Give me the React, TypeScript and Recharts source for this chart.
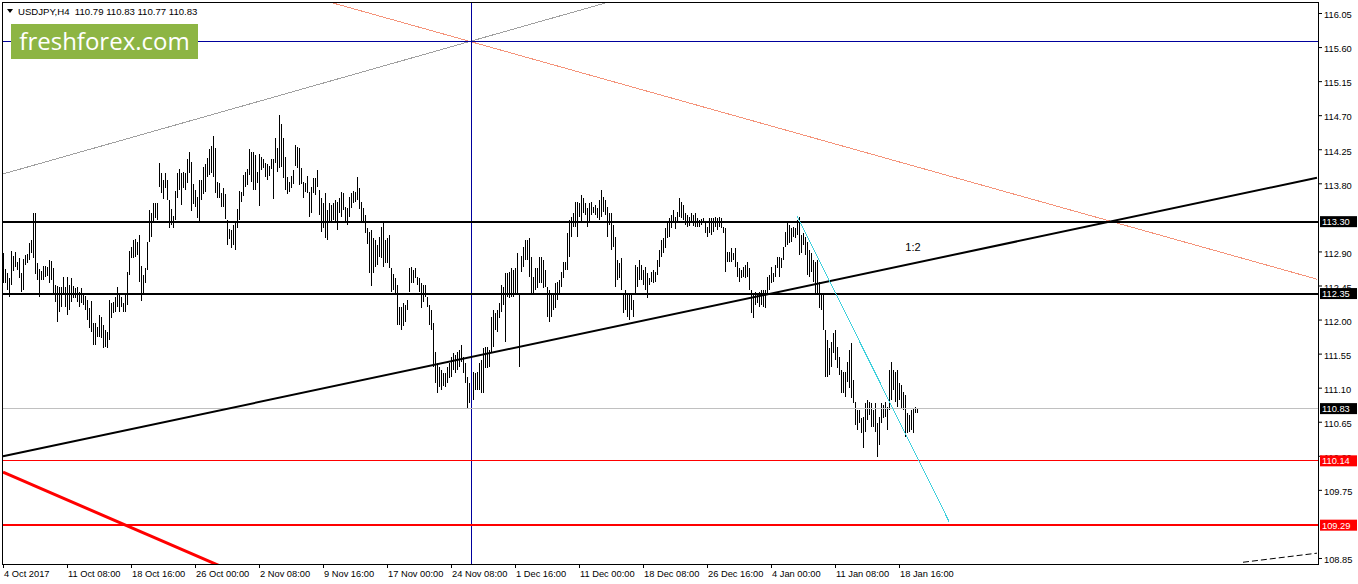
import { ComposedChart, Bar, XAxis, YAxis, ReferenceLine, ReferenceDot } from 'recharts'

// USDJPY H4 bars, 4 Oct 2017 .. 19 Jan 2018 (high / low per bar)
const highs = [
  112.89, 112.68, 112.62, 112.56, 112.91, 112.85, 112.90, 112.77, 112.82, 112.62,
  112.81, 112.86, 112.87, 113.02, 113.06, 113.41, 113.41, 112.75, 112.68, 112.65,
  112.71, 112.71, 112.70, 112.79, 112.78, 112.69, 112.46, 112.45, 112.44, 112.44,
  112.57, 112.44, 112.57, 112.46, 112.56, 112.45, 112.42, 112.44, 112.37, 112.42,
  112.36, 112.32, 112.27, 112.16, 112.25, 111.96, 111.96, 111.91, 112.07, 112.04,
  111.94, 111.87, 111.84, 112.27, 112.23, 112.24, 112.31, 112.44, 112.36, 112.31,
  112.23, 112.33, 112.64, 112.91, 112.97, 113.06, 113.07, 113.03, 113.12, 112.71,
  112.60, 112.69, 113.03, 113.45, 113.41, 113.55, 113.55, 113.55, 114.08, 113.94,
  113.85, 113.94, 113.85, 113.59, 113.47, 113.37, 113.71, 113.94, 113.99, 113.94,
  113.96, 113.94, 114.13, 114.22, 114.09, 113.80, 113.72, 113.63, 113.85, 113.85,
  114.02, 114.06, 114.14, 114.26, 114.30, 114.43, 114.27, 113.82, 113.81, 113.68,
  113.75, 113.67, 113.32, 113.20, 113.19, 113.26, 113.30, 113.47, 113.71, 113.69,
  113.92, 113.96, 114.00, 114.26, 114.22, 114.22, 114.18, 113.96, 114.19, 114.15,
  114.13, 114.08, 114.06, 114.04, 114.13, 114.13, 114.41, 114.27, 114.71, 114.59,
  114.41, 114.15, 113.89, 113.82, 113.90, 113.98, 114.31, 114.29, 114.27, 114.01,
  113.82, 113.81, 113.90, 113.69, 113.76, 113.88, 113.88, 113.98, 113.72, 113.61,
  113.55, 113.68, 113.45, 113.55, 113.52, 113.55, 113.59, 113.56, 113.61, 113.69,
  113.68, 113.49, 113.48, 113.63, 113.68, 113.71, 113.69, 113.89, 113.75, 113.56,
  113.48, 113.39, 113.22, 113.16, 113.19, 113.08, 113.06, 112.99, 113.10, 113.23,
  113.30, 113.06, 113.08, 113.12, 112.69, 112.61, 112.56, 112.46, 112.17, 112.17,
  112.23, 112.20, 112.27, 112.69, 112.70, 112.66, 112.69, 112.57, 112.56, 112.49,
  112.46, 112.46, 112.31, 112.20, 112.13, 111.96, 111.58, 111.43, 111.38, 111.34,
  111.30, 111.30, 111.38, 111.43, 111.51, 111.57, 111.54, 111.58, 111.61, 111.67,
  111.51, 111.43, 111.25, 111.17, 111.12, 111.32, 111.30, 111.32, 111.43, 111.47,
  111.63, 111.65, 111.65, 111.61, 112.04, 112.13, 112.09, 112.13, 112.23, 112.46,
  112.44, 112.62, 112.62, 112.64, 112.69, 112.66, 112.69, 112.89, 112.33, 112.85,
  112.97, 113.06, 113.06, 113.08, 112.83, 112.57, 112.69, 112.69, 112.83, 112.83,
  112.79, 112.66, 112.44, 112.40, 112.36, 112.36, 112.49, 112.50, 112.53, 112.64,
  112.77, 112.77, 113.15, 113.32, 113.36, 113.41, 113.56, 113.56, 113.55, 113.65,
  113.61, 113.55, 113.48, 113.55, 113.56, 113.49, 113.52, 113.48, 113.59, 113.72,
  113.63, 113.59, 113.49, 113.41, 113.41, 113.26, 113.10, 112.79, 112.75, 112.82,
  112.36, 112.40, 112.36, 112.36, 112.36, 112.27, 112.73, 112.70, 112.79, 112.73,
  112.66, 112.70, 112.62, 112.56, 112.64, 112.66, 112.64, 112.79, 112.93, 113.06,
  113.08, 113.22, 113.30, 113.35, 113.39, 113.45, 113.36, 113.43, 113.61, 113.56,
  113.52, 113.41, 113.39, 113.36, 113.41, 113.39, 113.41, 113.35, 113.32, 113.34,
  113.35, 113.28, 113.23, 113.35, 113.35, 113.35, 113.36, 113.35, 113.36, 113.35,
  113.23, 113.22, 112.90, 112.90, 112.95, 112.89, 112.95, 112.77, 112.69, 112.66,
  112.70, 112.73, 112.77, 112.69, 112.40, 112.36, 112.37, 112.36, 112.37, 112.40,
  112.40, 112.40, 112.57, 112.60, 112.70, 112.62, 112.73, 112.83, 112.83, 112.82,
  112.97, 113.16, 113.28, 113.26, 113.22, 113.23, 113.22, 113.32, 113.36, 113.12,
  113.15, 113.10, 113.03, 112.93, 112.89, 112.79, 112.77, 112.79, 112.50, 112.33,
  112.33, 111.87, 111.74, 111.63, 111.71, 111.83, 111.87, 111.65, 111.51, 111.34,
  111.32, 111.32, 111.45, 111.61, 111.70, 111.21, 110.92, 110.81, 110.81, 110.71,
  110.72, 110.90, 110.94, 110.92, 110.90, 110.81, 110.90, 110.64, 110.72, 110.90,
  110.88, 110.92, 110.85, 111.34, 111.45, 111.34, 111.32, 111.34, 111.17, 111.14,
  111.05, 111.01, 110.77, 110.75, 110.81, 110.84, 110.85, 110.83
]

const lows = [
  112.49, 112.49, 112.40, 112.31, 112.46, 112.65, 112.70, 112.66, 112.56, 112.37,
  112.40, 112.73, 112.75, 112.79, 112.89, 112.82, 112.61, 112.53, 112.31, 112.53,
  112.53, 112.57, 112.58, 112.49, 112.53, 112.33, 112.24, 111.97, 112.11, 112.17,
  112.36, 112.17, 112.07, 112.13, 112.24, 112.29, 112.29, 112.24, 112.17, 112.23,
  112.20, 112.13, 112.00, 111.90, 111.84, 111.67, 111.67, 111.78, 111.78, 111.76,
  111.63, 111.65, 111.63, 111.74, 112.03, 112.09, 112.11, 112.17, 112.11, 112.17,
  112.11, 112.11, 112.20, 112.60, 112.82, 112.82, 112.83, 112.86, 112.50, 112.25,
  112.36, 112.49, 112.66, 113.03, 113.10, 113.30, 113.35, 113.32, 113.76, 113.68,
  113.60, 113.74, 113.59, 113.22, 113.26, 113.22, 113.32, 113.61, 113.72, 113.52,
  113.74, 113.72, 113.81, 113.94, 113.44, 113.53, 113.49, 113.35, 113.31, 113.59,
  113.67, 113.69, 113.89, 113.92, 113.94, 113.89, 113.68, 113.61, 113.61, 113.49,
  113.49, 113.34, 112.99, 113.07, 112.95, 112.99, 112.93, 113.22, 113.32, 113.56,
  113.64, 113.76, 113.78, 113.92, 113.82, 113.72, 113.72, 113.81, 113.51, 113.98,
  114.01, 113.89, 113.85, 113.90, 114.00, 113.60, 114.08, 113.96, 114.01, 114.02,
  113.88, 113.72, 113.67, 113.69, 113.74, 113.80, 114.04, 114.01, 113.78, 113.80,
  113.61, 113.69, 113.68, 113.36, 113.41, 113.68, 113.65, 113.76, 113.39, 113.16,
  113.22, 113.08, 113.06, 113.30, 113.28, 113.32, 113.28, 113.19, 113.41, 113.36,
  113.45, 113.30, 113.26, 113.36, 113.48, 113.55, 113.56, 113.59, 113.47, 113.28,
  113.28, 113.15, 113.01, 112.62, 112.45, 112.62, 112.70, 112.73, 112.83, 112.82,
  112.70, 112.75, 112.75, 112.69, 112.37, 112.40, 112.36, 111.94, 111.94, 111.87,
  111.92, 111.97, 112.13, 112.37, 112.49, 112.49, 112.56, 112.46, 112.37, 112.16,
  112.24, 112.31, 112.17, 111.94, 111.87, 111.38, 111.17, 111.04, 111.12, 111.08,
  111.13, 111.12, 111.17, 111.24, 111.25, 111.34, 111.30, 111.34, 111.38, 111.45,
  111.30, 111.17, 110.83, 110.90, 110.94, 110.94, 111.08, 111.08, 111.08, 111.04,
  111.04, 111.37, 111.37, 111.38, 111.57, 111.65, 111.87, 111.84, 112.03, 112.11,
  112.20, 111.71, 112.31, 112.29, 112.31, 112.31, 112.36, 112.33, 111.38, 112.64,
  112.70, 112.79, 112.79, 112.57, 112.36, 112.36, 112.40, 112.42, 112.49, 112.49,
  112.42, 112.44, 112.04, 111.97, 112.04, 112.13, 112.16, 112.27, 112.36, 112.44,
  112.56, 112.66, 112.66, 112.83, 113.10, 113.23, 113.23, 113.10, 113.36, 113.30,
  113.41, 113.39, 113.23, 113.28, 113.39, 113.41, 113.39, 113.35, 113.32, 113.36,
  113.43, 113.39, 113.10, 113.26, 112.93, 112.97, 112.44, 112.53, 112.56, 112.40,
  112.09, 112.13, 112.04, 112.00, 112.13, 112.04, 112.36, 112.44, 112.53, 112.53,
  112.46, 112.40, 112.29, 112.46, 112.50, 112.49, 112.50, 112.60, 112.70, 112.83,
  112.89, 112.95, 113.08, 113.10, 113.22, 113.28, 113.20, 113.30, 113.36, 113.35,
  113.32, 113.26, 113.23, 113.24, 113.28, 113.24, 113.23, 113.23, 113.23, 113.26,
  113.28, 113.15, 113.10, 113.15, 113.12, 113.16, 113.23, 113.19, 113.23, 113.22,
  113.15, 112.64, 112.77, 112.77, 112.77, 112.79, 112.70, 112.57, 112.50, 112.56,
  112.57, 112.56, 112.57, 112.40, 112.09, 112.03, 112.20, 112.23, 112.17, 112.20,
  112.17, 112.16, 112.33, 112.40, 112.49, 112.50, 112.57, 112.69, 112.57, 112.69,
  112.79, 112.97, 112.99, 113.02, 113.03, 113.10, 113.08, 113.12, 112.86, 112.89,
  112.99, 112.86, 112.60, 112.57, 112.64, 112.50, 112.36, 112.36, 112.16, 112.13,
  111.87, 111.25, 111.25, 111.27, 111.38, 111.57, 111.47, 111.37, 111.27, 111.04,
  111.04, 110.98, 111.18, 111.10, 110.97, 110.90, 110.61, 110.55, 110.64, 110.51,
  110.31, 110.52, 110.68, 110.75, 110.59, 110.59, 110.52, 110.19, 110.35, 110.64,
  110.71, 110.72, 110.55, 110.81, 110.94, 111.08, 110.92, 110.85, 110.94, 110.84,
  110.81, 110.46, 110.51, 110.52, 110.55, 110.51, 110.77, 110.77
]

const lastQuote = { open: 110.79, high: 110.83, low: 110.77, close: 110.83 }

const xTickLabels = [
  '4 Oct 2017', '11 Oct 08:00', '18 Oct 16:00', '26 Oct 00:00', '2 Nov 08:00',
  '9 Nov 16:00', '17 Nov 00:00', '24 Nov 08:00', '1 Dec 16:00', '11 Dec 00:00',
  '18 Dec 08:00', '26 Dec 16:00', '4 Jan 00:00', '11 Jan 08:00', '18 Jan 16:00'
]
const BARS_PER_LABEL = 32

// 113.35 and 109.30 sit fully under price tags, so the terminal drops them
const yTickValues = [
  116.05, 115.6, 115.15, 114.7, 114.25, 113.8, 112.9, 112.45,
  112.0, 111.55, 111.1, 110.65, 110.2, 109.75, 108.85
]

// horizontal levels drawn on the chart
const levels = [
  { price: 115.68, color: '#00009c', width: 1, tag: null },
  { price: 113.3, color: '#000000', width: 2, tag: '#000000' },
  { price: 112.35, color: '#000000', width: 2, tag: '#000000' },
  { price: 110.83, color: '#c0c0c0', width: 1, tag: '#000000' },
  { price: 110.14, color: '#ff0000', width: 1, tag: '#ff0000' },
  { price: 109.29, color: '#ff0000', width: 2, tag: '#ff0000' }
]

// trend lines, anchored at (bar slot, price)
const grayChannel = [{ x: 0, y: 113.93 }, { x: 320, y: 116.33 }]
const salmonLine = [{ x: 150, y: 116.3 }, { x: 657, y: 112.54 }]
const trendLine = [{ x: 0, y: 110.2 }, { x: 657, y: 113.88 }]
const redDiagonal = [{ x: 0, y: 109.99 }, { x: 120, y: 108.62 }]
const cyanLine = [{ x: 397, y: 113.38 }, { x: 473, y: 109.34 }]
const dashedLine = [{ x: 620, y: 108.8 }, { x: 657, y: 108.92 }]
const crosshairSlot = 234
const ratioLabel = { x: 455, y: 112.97, text: '1:2' }

const SLOTS = 658
const Y_DOMAIN = [108.777, 116.202]
const FONT = '"Liberation Sans", Arial, sans-serif'

const data = Array.from({ length: SLOTS }, (_, i) => ({
  i,
  hl: i < highs.length ? [lows[i], highs[i]] : null
}))

const HLBar = (props: any) => {
  const { x, y, width, height } = props
  if (!Number.isFinite(x) || !Number.isFinite(y) || !Number.isFinite(height)) return null
  const top = Math.min(y, y + height)
  const h = Math.max(Math.abs(height), 1)
  return <rect x={Math.round(x + width / 2 - 0.5)} y={top} width={1} height={h} fill="#000" shapeRendering="crispEdges" />
}

const PriceTick = ({ x, y, payload }: any) => (
  <text x={x} y={y} dy={4.8} fontSize={9.3} fontFamily={FONT} fill="#000" textAnchor="start">
    {Number(payload.value).toFixed(2)}
  </text>
)

const TimeTick = ({ x, y, payload }: any) => (
  <g>
    <line x1={x} x2={x} y1={y} y2={y + 4} stroke="#000" shapeRendering="crispEdges" />
    <text x={x + 1} y={y + 13} fontSize={9.3} fontFamily={FONT} fill="#000" textAnchor="start">
      {xTickLabels[payload.value / BARS_PER_LABEL]}
    </text>
  </g>
)

const priceTag = (price: number, bg: string) => (props: any) => {
  const vb = props.viewBox
  if (!vb) return null
  const left = vb.x + vb.width + 2
  return (
    <g>
      <rect x={left} y={vb.y - 5.5} width={37} height={11} fill={bg} />
      <text x={left + 2} y={vb.y + 3.5} fontSize={9.3} fontFamily={FONT} fill="#fff">
        {price.toFixed(2)}
      </text>
    </g>
  )
}

export default function App() {
  const quote = `${lastQuote.open.toFixed(2)} ${lastQuote.high.toFixed(2)} ${lastQuote.low.toFixed(2)} ${lastQuote.close.toFixed(2)}`
  return (
    <div style={{ position: 'absolute', left: 0, top: 0, width: 1358, height: 584, background: '#fff', fontFamily: FONT }}>
      <ComposedChart
        width={1358}
        height={584}
        data={data}
        margin={{ top: 2, right: 0, bottom: 0, left: 2 }}
        barCategoryGap={0}
        barGap={0}
      >
        <XAxis
          dataKey="i"
          type="category"
          height={20}
          ticks={xTickLabels.map((_, k) => k * BARS_PER_LABEL)}
          interval={0}
          axisLine={false}
          tickLine={false}
          tickSize={0}
          tickMargin={0}
          tick={<TimeTick />}
        />
        <YAxis
          orientation="right"
          width={40}
          domain={Y_DOMAIN}
          allowDataOverflow
          ticks={yTickValues}
          interval={0}
          axisLine={false}
          tickLine={{ stroke: '#000' }}
          tickSize={4}
          tickMargin={2}
          tick={<PriceTick />}
        />
        <ReferenceLine segment={grayChannel} stroke="#a0a0a0" strokeWidth={1} ifOverflow="hidden" shapeRendering="crispEdges" />
        <ReferenceLine segment={salmonLine} stroke="#f4937a" strokeWidth={1} ifOverflow="hidden" shapeRendering="crispEdges" />
        <ReferenceLine segment={redDiagonal} stroke="#ff0000" strokeWidth={3} ifOverflow="hidden" />
        <ReferenceLine segment={dashedLine} stroke="#000" strokeWidth={1} strokeDasharray="6 3" ifOverflow="hidden" />
        <ReferenceLine x={crosshairSlot} stroke="#00009c" strokeWidth={1} shapeRendering="crispEdges" />
        {levels.map((lv) => (
          <ReferenceLine key={lv.price} y={lv.price} stroke={lv.color} strokeWidth={lv.width} shapeRendering="crispEdges" />
        ))}
        <Bar dataKey="hl" shape={HLBar} isAnimationActive={false} />
        <ReferenceLine segment={trendLine} stroke="#000" strokeWidth={2} ifOverflow="hidden" />
        <ReferenceLine segment={cyanLine} stroke="#40d0dc" strokeWidth={1} ifOverflow="hidden" shapeRendering="crispEdges" />
        <ReferenceDot
          x={ratioLabel.x}
          y={ratioLabel.y}
          r={0}
          fill="none"
          stroke="none"
          label={{ value: ratioLabel.text, position: 'center', fill: '#000', fontSize: 11, fontFamily: FONT }}
        />
      </ComposedChart>

      {/* price tags sit above the axis labels, so they get their own layer */}
      <div style={{ position: 'absolute', left: 0, top: 0 }}>
        <ComposedChart width={1358} height={584} data={data} margin={{ top: 2, right: 40, bottom: 20, left: 2 }}>
          <XAxis dataKey="i" type="category" hide />
          <YAxis domain={Y_DOMAIN} allowDataOverflow hide />
          {levels.filter((lv) => lv.tag).map((lv) => (
            <ReferenceLine
              key={lv.price}
              y={lv.price}
              stroke="none"
              label={priceTag(lv.price, lv.tag as string)}
            />
          ))}
        </ComposedChart>
      </div>

      <svg width={1358} height={584} style={{ position: 'absolute', left: 0, top: 0, pointerEvents: 'none' }}>
        <rect x={2.5} y={2.5} width={1316} height={562} fill="none" stroke="#000" />
        <polygon points="7,9 13,9 10,13" fill="#000" />
        <text x={18} y={14.5} fontSize={9.6} fontFamily={FONT} fill="#000" style={{ whiteSpace: 'pre' }}>
          {`USDJPY,H4  ${quote}`}
        </text>
        <rect x={11} y={24} width={187} height={35} fill="#8db544" />
        <text x={104.5} y={50} textAnchor="middle" fontSize={24} fontFamily='"Open Sans", sans-serif' fill="#fff">
          freshforex.com
        </text>
      </svg>
    </div>
  )
}
